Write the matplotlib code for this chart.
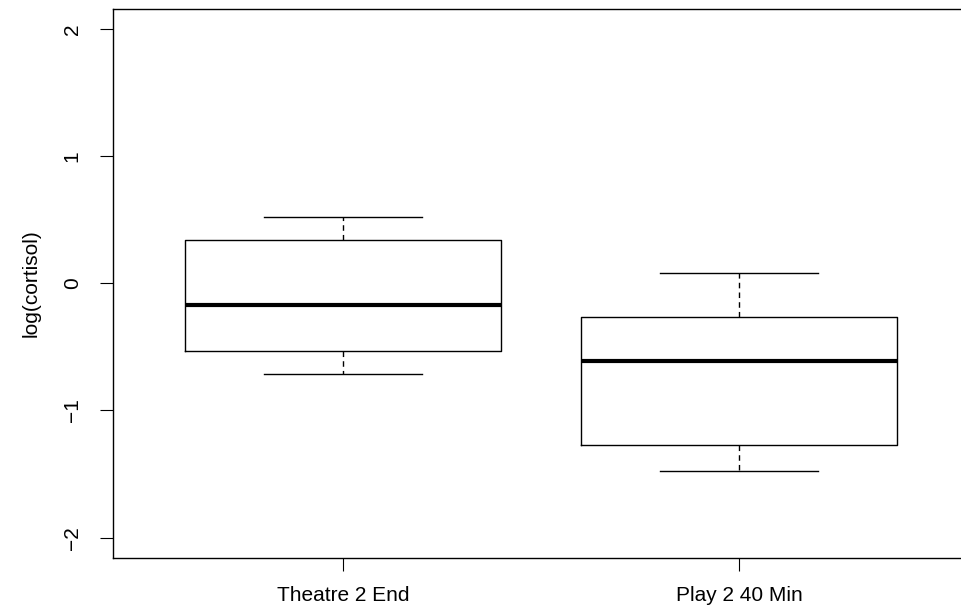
import matplotlib.pyplot as plt

plt.rcParams['font.family'] = ['Liberation Sans', 'DejaVu Sans']

# data
groups = ['Theatre 2 End', 'Play 2 40 Min']
whisker_low = [-0.711, -1.474]
q1 = [-0.530, -1.269]
median = [-0.169, -0.609]
q3 = [0.342, -0.263]
whisker_high = [0.523, 0.083]

yticks = [-2, -1, 0, 1, 2]
ytick_labels = ['\u22122', '\u22121', '0', '1', '2']

stats = []
for i in range(len(groups)):
    stats.append({
        'label': groups[i],
        'whislo': whisker_low[i],
        'q1': q1[i],
        'med': median[i],
        'q3': q3[i],
        'whishi': whisker_high[i],
        'fliers': [],
    })

fig = plt.figure(figsize=(9.61, 6.14), dpi=100)
# axes frame runs past the right edge of the image, as in the reference
ax = fig.add_axes([113 / 961, 1 - 558 / 614, (969 - 113) / 961, (558 - 8.5) / 614])

ax.bxp(stats, positions=[1, 2], widths=0.8, patch_artist=False,
       boxprops=dict(color='black', linewidth=1.0),
       medianprops=dict(color='black', linewidth=3.0, solid_capstyle='butt'),
       whiskerprops=dict(color='black', linewidth=1.0, linestyle=(0, (4, 3))),
       capprops=dict(color='black', linewidth=1.0),
       capwidths=0.4)

ax.set_xlim(0.419, 2.581)
ax.set_ylim(-2.16, 2.16)

ax.set_yticks(yticks)
ax.set_yticklabels(ytick_labels, rotation=90, va='center')
ax.set_xticks([1, 2])
ax.set_xticklabels(groups)
ax.tick_params(axis='both', length=9.5, width=0.8, labelsize=15, color='black')
ax.tick_params(axis='y', pad=13)
ax.tick_params(axis='x', pad=11)
ax.set_ylabel('log(cortisol)', fontsize=15, labelpad=16)

for s in ax.spines.values():
    s.set_linewidth(1.0)

fig.savefig('out.png', dpi=100)
